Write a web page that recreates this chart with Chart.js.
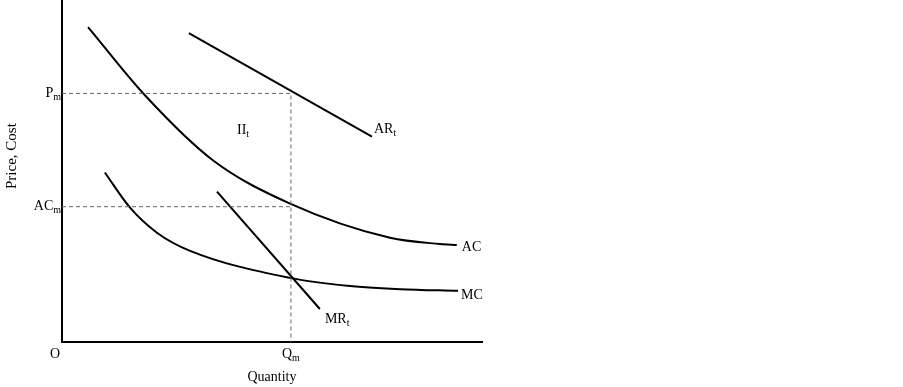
<!DOCTYPE html>
<html lang="en">
<head>
  <meta charset="UTF-8">
  <title>Monopoly - Price, Cost</title>
  <script src="https://cdn.jsdelivr.net/npm/chart.js"></script>
  <style>
    body { margin: 0; background: #fff; }
    #wrap { width: 903px; height: 387px; position: relative; }
  </style>
</head>
<body>
  <div id="wrap">
    <canvas id="grafico"></canvas>
  </div>

  <script>
    // quantity / price values (0-100 on both axes)
    const acQty  = [6.2, 19.8, 36.0, 54.3, 78.1, 90.0, 94.0];
    const acCost = [92.1, 72.1, 53.1, 40.5, 30.5, 28.7, 28.4];

    const mcQty  = [10.2, 16.2, 22.6, 30.5, 54.3, 68.6, 80.5, 94.3];
    const mcCost = [49.6, 39.3, 32.0, 26.7, 18.8, 16.4, 15.5, 15.0];

    const arQty   = [30.2, 73.8];
    const arPrice = [90.3, 60.1];

    const mrQty = [36.9, 61.4];
    const mrRev = [44.0, 9.7];

    const qm  = 54.5;   // Q_m
    const pm  = 72.7;   // P_m
    const acm = 39.6;   // AC_m

    // text labels: main text, subscript, anchor value, alignment
    const labels = [
      { text: "P",  sub: "m", x: 0,      y: pm,   align: "right",  dx: -1, dy: 0 },
      { text: "AC", sub: "m", x: 0,      y: acm,  align: "right",  dx: -1, dy: 0 },
      { text: "O",  sub: "",  x: 0,      y: 0,    align: "center", dx: -7, dy: 12 },
      { text: "Q",  sub: "m", x: qm,     y: 0,    align: "center", dx: 0,  dy: 12 },
      { text: "II", sub: "t", x: 43.1,   y: 61.9, align: "center", dx: 0,  dy: 0 },
      { text: "AR", sub: "t", x: arQty[1], y: arPrice[1], align: "left", dx: 2, dy: -7 },
      { text: "AC", sub: "",  x: acQty[acQty.length - 1], y: acCost[acCost.length - 1], align: "left", dx: 5, dy: 2 },
      { text: "MC", sub: "",  x: mcQty[mcQty.length - 1], y: mcCost[mcCost.length - 1], align: "left", dx: 3, dy: 4 },
      { text: "MR", sub: "t", x: mrQty[1], y: mrRev[1], align: "left", dx: 5, dy: 10 }
    ];
    const yTitle = "Price, Cost";

    const pares = (xs, ys) => xs.map((x, i) => ({ x: x, y: ys[i] }));

    const fonte = "Liberation Serif, Times New Roman, serif";

    const rotulos = {
      id: "rotulos",
      afterDraw(chart) {
        const ctx = chart.ctx;
        const sx = chart.scales.x, sy = chart.scales.y;
        ctx.save();
        ctx.fillStyle = "#000";
        ctx.textBaseline = "middle";
        labels.forEach(l => {
          const px = sx.getPixelForValue(l.x) + l.dx;
          const py = sy.getPixelForValue(l.y) + l.dy;
          ctx.font = "14px " + fonte;
          const w1 = ctx.measureText(l.text).width;
          ctx.font = "10px " + fonte;
          const w2 = l.sub ? ctx.measureText(l.sub).width : 0;
          const w = w1 + w2;
          let left = px;
          if (l.align === "right") left = px - w;
          else if (l.align === "center") left = px - w / 2;
          ctx.textAlign = "left";
          ctx.font = "14px " + fonte;
          ctx.fillText(l.text, left, py);
          if (l.sub) {
            ctx.font = "10px " + fonte;
            ctx.fillText(l.sub, left + w1, py + 4);
          }
        });

        // vertical axis title, a little above the middle of the axis
        const area = chart.chartArea;
        ctx.translate(12, (area.top + area.bottom) / 2 - 15);
        ctx.rotate(-Math.PI / 2);
        ctx.textAlign = "center";
        ctx.font = "15px " + fonte;
        ctx.fillText(yTitle, 0, 0);
        ctx.restore();
      }
    };

    const curva = (data, suave) => ({
      data: data,
      borderColor: "#000",
      borderWidth: 2,
      pointRadius: 0,
      fill: false,
      cubicInterpolationMode: suave ? "monotone" : "default",
      tension: 0
    });

    const guia = (data) => ({
      data: data,
      borderColor: "#666",
      borderWidth: 1,
      borderDash: [4, 3],
      pointRadius: 0,
      fill: false,
      tension: 0
    });

    const ctx = document.getElementById("grafico").getContext("2d");
    new Chart(ctx, {
      type: "line",
      data: {
        datasets: [
          guia([{ x: 0, y: pm }, { x: qm, y: pm }, { x: qm, y: 0 }]),
          guia([{ x: 0, y: acm }, { x: qm, y: acm }]),
          curva(pares(acQty, acCost), true),
          curva(pares(mcQty, mcCost), true),
          curva(pares(arQty, arPrice), false),
          curva(pares(mrQty, mrRev), false)
        ]
      },
      options: {
        responsive: true,
        maintainAspectRatio: false,
        animation: false,
        layout: { padding: { left: 62, right: 421, top: 0, bottom: 1 } },
        plugins: { legend: { display: false }, tooltip: { enabled: false } },
        scales: {
          x: {
            type: "linear",
            min: 0,
            max: 100,
            grid: { display: false, drawTicks: false },
            border: { display: true, color: "#000", width: 2 },
            ticks: { display: false },
            title: {
              display: true,
              text: "Quantity",
              color: "#000",
              font: { family: fonte, size: 14 },
              padding: { top: 27, bottom: 0 }
            }
          },
          y: {
            type: "linear",
            min: 0,
            max: 100,
            grid: { display: false, drawTicks: false },
            border: { display: true, color: "#000", width: 2 },
            ticks: { display: false }
          }
        }
      },
      plugins: [rotulos]
    });
  </script>
</body>
</html>
